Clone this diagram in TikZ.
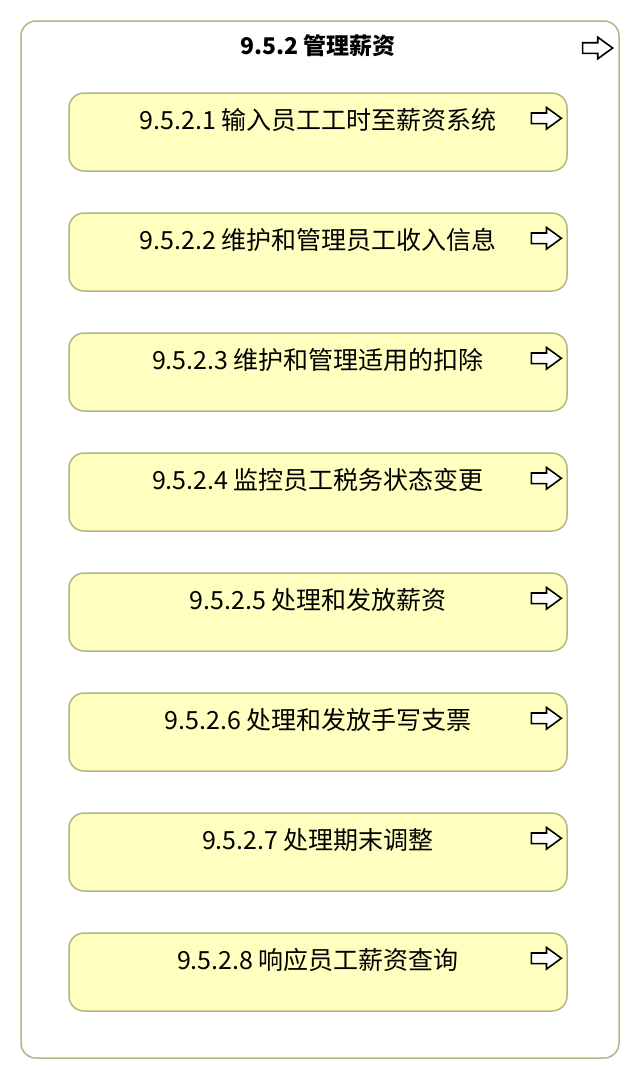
\documentclass[tikz,border=0pt]{standalone}
\usepackage{fontspec}
\setmainfont{Noto Sans CJK SC}
\usepackage{tikz}
\usetikzlibrary{shapes.arrows, positioning}

\definecolor{boxfill}{HTML}{FFFFC0}
\definecolor{boxline}{HTML}{B5B580}

\tikzset{
  group/.style={draw=boxline, line width=1.5pt, rounded corners=15pt, fill=white,
    minimum width=598pt, minimum height=1037pt, inner sep=0pt},
  task/.style={draw=boxline, line width=1.5pt, rounded corners=15pt, fill=boxfill,
    minimum width=498pt, minimum height=78pt, inner sep=0pt},
  flow/.style={draw=black, line width=1.6pt, fill=white, single arrow,
    single arrow head extend=5.5pt, single arrow tip angle=72,
    minimum height=30pt, inner sep=4.5pt, anchor=east},
  label/.style={font=\fontsize{25}{28}\selectfont, inner sep=0pt}
}

\begin{document}
\begin{tikzpicture}[x=1pt, y=-1pt]
  \useasboundingbox (0, 0) rectangle (640, 1080);

  \node[group] (g) at (320, 539.5) {};
  \node[label, font=\fontsize{23}{26}\selectfont\bfseries] (gt) at (318, 46) {9.5.2 管理薪资};
  \node[flow] (ga) at (614, 48) {};

  \node[task] (t1) at (318, 132) {};
  \node[task] (t2) at (318, 252) {};
  \node[task] (t3) at (318, 372) {};
  \node[task] (t4) at (318, 492) {};
  \node[task] (t5) at (318, 612) {};
  \node[task] (t6) at (318, 732) {};
  \node[task] (t7) at (318, 852) {};
  \node[task] (t8) at (318, 972) {};

  \node[label, below=28pt of t1.north, anchor=center] (t1l) {9.5.2.1 输入员工工时至薪资系统};
  \node[label, below=28pt of t2.north, anchor=center] (t2l) {9.5.2.2 维护和管理员工收入信息};
  \node[label, below=28pt of t3.north, anchor=center] (t3l) {9.5.2.3 维护和管理适用的扣除};
  \node[label, below=28pt of t4.north, anchor=center] (t4l) {9.5.2.4 监控员工税务状态变更};
  \node[label, below=28pt of t5.north, anchor=center] (t5l) {9.5.2.5 处理和发放薪资};
  \node[label, below=28pt of t6.north, anchor=center] (t6l) {9.5.2.6 处理和发放手写支票};
  \node[label, below=28pt of t7.north, anchor=center] (t7l) {9.5.2.7 处理期末调整};
  \node[label, below=28pt of t8.north, anchor=center] (t8l) {9.5.2.8 响应员工薪资查询};

  \node[flow] (t1a) at ([xshift=-5pt, yshift=-26pt]t1.north east) {};
  \node[flow] (t2a) at ([xshift=-5pt, yshift=-26pt]t2.north east) {};
  \node[flow] (t3a) at ([xshift=-5pt, yshift=-26pt]t3.north east) {};
  \node[flow] (t4a) at ([xshift=-5pt, yshift=-26pt]t4.north east) {};
  \node[flow] (t5a) at ([xshift=-5pt, yshift=-26pt]t5.north east) {};
  \node[flow] (t6a) at ([xshift=-5pt, yshift=-26pt]t6.north east) {};
  \node[flow] (t7a) at ([xshift=-5pt, yshift=-26pt]t7.north east) {};
  \node[flow] (t8a) at ([xshift=-5pt, yshift=-26pt]t8.north east) {};
\end{tikzpicture}
\end{document}
